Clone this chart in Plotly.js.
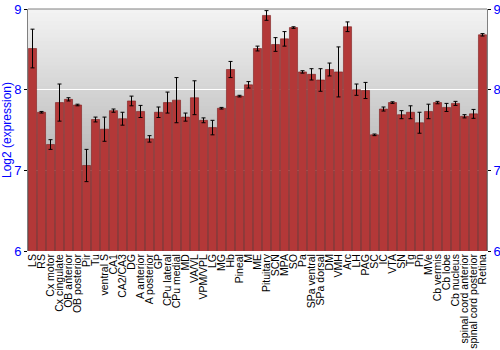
<!DOCTYPE html>
<html><head><meta charset="utf-8">
<script src="https://cdn.plot.ly/plotly-3.0.1.min.js"></script>
<style>html,body{margin:0;padding:0;background:#fff}#chart{width:500px;height:350px}</style>
</head><body><div id="chart"></div>
<script>
const regions = ["LS","RS","Cx motor","Cx cingulate","OB anterior","OB posterior","Pir","Tu","ventral S","CA1","CA2/CA3","DG","A anterior","A posterior","GP","CPu lateral","CPu medial","MD","VA/VL","VPM/VPL","LG","MG","Hb","Pineal","M","ME","Pituitary","SCN","MPA","SO","Pa","SPa ventral","SPa dorsal","DM","VMH","Arc","LH","PAG","SC","IC","VTA","SN","Tg","Pn","MVe","Cb vermis","Cb lobe","Cb nucleus","spinal cord anterior","spinal cord posterior","Retina"];
const expression = [8.51,7.72,7.32,7.84,7.88,7.81,7.06,7.63,7.51,7.74,7.64,7.86,7.73,7.39,7.72,7.84,7.87,7.66,7.90,7.62,7.53,7.77,8.25,7.92,8.06,8.51,8.92,8.56,8.63,8.77,8.22,8.19,8.12,8.25,8.22,8.78,8.00,7.99,7.44,7.76,7.84,7.69,7.72,7.59,7.73,7.84,7.78,7.83,7.67,7.70,8.68];
const errors = [0.24,0.01,0.06,0.23,0.02,0.01,0.20,0.03,0.15,0.02,0.08,0.06,0.075,0.04,0.065,0.13,0.28,0.05,0.21,0.03,0.09,0.01,0.10,0.01,0.04,0.03,0.06,0.085,0.09,0.01,0.015,0.07,0.14,0.08,0.31,0.06,0.07,0.10,0.01,0.025,0.01,0.05,0.08,0.13,0.09,0.015,0.05,0.025,0.02,0.055,0.015];
const yTicks = [6,7,8,9];

// background gradient strips (overlapping to avoid seams)
const shapes = [];
const N = 60;
for (let i = 0; i < N; i++) {
  const t = i / (N - 1);
  const c = Math.round(243 - t * (243 - 150));
  shapes.push({type:'rect', xref:'paper', yref:'paper', x0:0, x1:1, y0:Math.max(0, 1 - (i+1.6)/N), y1:1 - i/N,
    fillcolor:`rgb(${c},${c},${c})`, line:{width:0}, layer:'below'});
}
shapes.push({type:'line', xref:'paper', yref:'paper', x0:0, x1:1, y0:1, y1:1, line:{color:'#808080', width:1}});

const trace = {
  type:'bar', x: regions, y: expression,
  marker:{color:'#b33838', line:{color:'#7d1c1c', width:0.6}},
  error_y:{type:'data', array: errors, visible:true, color:'#000', thickness:1, width:2},
  hoverinfo:'x+y'
};
const layout = {
  width:500, height:350,
  margin:{l:28, r:13, t:9, b:99},
  paper_bgcolor:'#fff', plot_bgcolor:'rgba(0,0,0,0)',
  showlegend:false, bargap:0.1,
  font:{family:'"Liberation Sans", Arial, sans-serif', size:10, color:'#000'},
  xaxis:{type:'category', range:[-0.5, regions.length - 0.5], tickmode:'array', tickvals: regions, tickangle:-90,
    tickfont:{size:10.5, color:'#000'}, ticks:'', showgrid:false, showline:false, automargin:false},
  yaxis:{range:[6,9], tickvals:yTicks, ticks:'outside', ticklen:3, tickcolor:'#000', showline:true, linecolor:'#808080', linewidth:1,
    showgrid:true, gridcolor:'#ffffff', gridwidth:1, zeroline:false, tickfont:{size:13, color:'#0000ff'},
    title:{text:'Log2 (expression)', font:{size:12, color:'#0000ff'}, standoff:2}, automargin:false},
  yaxis2:{range:[6,9], tickvals:yTicks, overlaying:'y', side:'right', ticks:'outside', ticklen:3, tickcolor:'#000', showline:true, linecolor:'#808080',
    showgrid:false, zeroline:false, tickfont:{size:13, color:'#0000ff'}, automargin:false},
  shapes: shapes
};
Plotly.newPlot('chart', [trace, {type:'scatter', mode:'markers', x:[regions[0]], y:[null], yaxis:'y2', showlegend:false, hoverinfo:'skip'}], layout, {displayModeBar:false, staticPlot:true});
</script></body></html>
